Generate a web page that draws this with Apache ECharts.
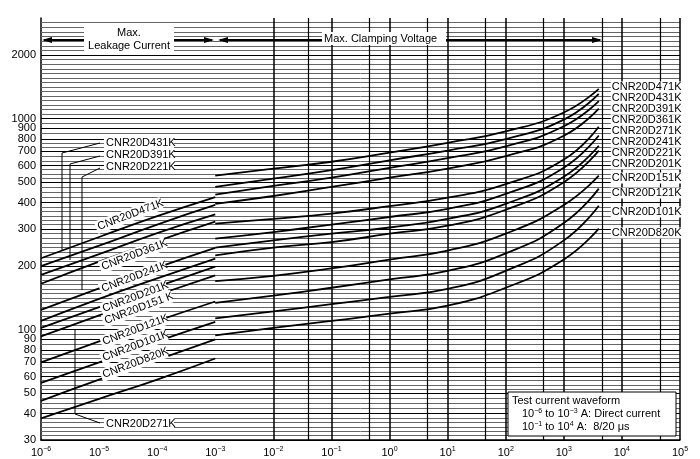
<!DOCTYPE html>
<html><head><meta charset="utf-8">
<script src="https://cdn.jsdelivr.net/npm/echarts@6/dist/echarts.min.js"></script>
<style>html,body{margin:0;padding:0;background:#fff}#c{width:700px;height:459px}</style>
</head><body><div id="c"></div>
<script>
const names = ['CNR20D471K','CNR20D431K','CNR20D391K','CNR20D361K','CNR20D271K','CNR20D241K','CNR20D221K','CNR20D201K','CNR20D151K','CNR20D121K','CNR20D101K','CNR20D820K'];
const leakCurrents = [1e-6, 1e-5, 1e-4, 1e-3];
const clampCurrents = [1e-3, 1e-2, 1e-1, 1, 10, 100, 1000, 4000];
const leakValues = [
 [218,275,345,425],[200,250,315,390],[182,228,287,352],[165,210,263,325],
 [124,157,197,244],[110,140,175,217],[102,128,160,199],[93,117,146,181],
 [70,88,110,136],[56,70,88,109],[46,58,72,90],[38,47,58,73]];
const clampValues = [
 [537,580,625,690,768,870,1070,1385],[475,520,570,635,706,800,990,1310],
 [437,480,525,585,650,740,920,1210],[395,430,475,525,580,665,830,1115],
 [318,335,355,385,422,490,640,916],[270,290,315,342,374,440,585,832],
 [245,265,285,305,335,395,530,744],[225,245,260,285,311,370,500,706],
 [170,180,195,215,237,285,390,537],[134,145,158,173,190,230,320,466],
 [113,122,132,143,156,190,265,387],[94,102,110,119,130,158,215,301]];
const endLabelY = [87,98,109,120,131,142,153,164,178,193,212,233];
const yTickLabels = [30,40,50,60,70,80,90,100,200,300,400,500,600,700,800,900,1000,2000];
const xDecades = [1e-6,1e-5,1e-4,1e-3,1e-2,1e-1,1,10,100,1000,1e4,1e5];
const xExtraLines = [4.5e-6,4.5e-5,4.5e-4,4.5e-3,4.5e-2,4.5e-1,4.5,45,450,4500,45000];
const supMap = {'-6':'−6','-5':'−5','-4':'−4','-3':'−3','-2':'−2','-1':'−1','0':'0','1':'1','2':'2','3':'3','4':'4','5':'5'};

const yMinor = [];
const bounds = yTickLabels.concat([3000]);
for (let i = 0; i < bounds.length - 1; i++) {
  const a = Math.log10(bounds[i]), b = Math.log10(bounds[i+1]);
  const n = Math.max(1, Math.round((b - a) / 0.022));
  for (let k = 1; k < n; k++) yMinor.push(Math.pow(10, a + (b - a) * k / n));
}

const series = [];
names.forEach((nm, i) => {
  series.push({type:'line', name:nm, data: leakCurrents.map((c,j)=>[c, leakValues[i][j]]),
    smooth:true, showSymbol:false, lineStyle:{color:'#000', width:1.8}, z:5, silent:true});
  series.push({type:'line', name:nm, data: clampCurrents.map((c,j)=>[c, clampValues[i][j]]),
    smooth:true, showSymbol:false, lineStyle:{color:'#000', width:1.8}, z:5, silent:true,
    endLabel:{show:true, formatter:'{a}', color:'#000', fontSize:11, fontFamily:'Liberation Sans', distance:12, backgroundColor:'#fff', padding:[0,1]}});
});
series.push({type:'line', data:[], silent:true, markLine:{silent:true, symbol:'none', animation:false,
  data: yMinor.map(v=>({yAxis:v, lineStyle:{color:'#666', width:1, type:'solid'}, label:{show:false}}))
   .concat(yTickLabels.map(v=>({yAxis:v, lineStyle:{color:'#000', width:1.2, type:'solid'},
     label:{show:true, position:'start', formatter:String(v), color:'#000', fontSize:11, fontFamily:'Liberation Sans', distance:5}})))
   .concat(xDecades.map(v=>({xAxis:v, lineStyle:{color:'#000', width:1.5, type:'solid'}, label:{show:false}})))
   .concat(xExtraLines.map(v=>({xAxis:v, lineStyle:{color:'#000', width:1.2, type:'solid'}, label:{show:false}})))
}});

const F = 'Liberation Sans';
function box(x, y, text, rot, w) {
  return {type:'group', x:x, y:y, rotation:rot||0, z:100, children:[
    {type:'rect', z:100, shape:{x:-2, y:-1, width:w||70, height:13}, style:{fill:'#fff'}},
    {type:'text', z:101, x:0, y:0, style:{text:text, fontSize:11, fontFamily:F, fill:'#000'}}]};
}
const graphic = [
  {type:'line', shape:{x1:44,y1:40,x2:212,y2:40}, style:{stroke:'#000', lineWidth:2}},
  {type:'line', shape:{x1:220,y1:40,x2:600,y2:40}, style:{stroke:'#000', lineWidth:2}},
  {type:'polygon', shape:{points:[[42,40],[52,37],[52,43]]}, style:{fill:'#000'}},
  {type:'polygon', shape:{points:[[214,40],[204,37],[204,43]]}, style:{fill:'#000'}},
  {type:'polygon', shape:{points:[[218,40],[228,37],[228,43]]}, style:{fill:'#000'}},
  {type:'polygon', shape:{points:[[602,40],[592,37],[592,43]]}, style:{fill:'#000'}},
  {type:'rect', shape:{x:84,y:24,width:90,height:28}, style:{fill:'#fff'}},
  {type:'text', x:129, y:26, style:{text:'Max.\nLeakage Current', align:'center', lineHeight:13, fontSize:11, fontFamily:F, fill:'#000'}},
  box(324, 33, 'Max. Clamping Voltage', 0, 124),
  {type:'polyline', shape:{points:[[62,250],[62,153],[100,143]]}, style:{stroke:'#000', lineWidth:1, fill:null}},
  {type:'polyline', shape:{points:[[70,260],[70,164],[100,156]]}, style:{stroke:'#000', lineWidth:1, fill:null}},
  {type:'polyline', shape:{points:[[82,290],[82,177],[100,168]]}, style:{stroke:'#000', lineWidth:1, fill:null}},
  {type:'polyline', shape:{points:[[75,330],[75,414],[100,423]]}, style:{stroke:'#000', lineWidth:1, fill:null}},
  box(106, 137, 'CNR20D431K'), box(106, 149, 'CNR20D391K'), box(106, 161, 'CNR20D221K'),
  box(106, 418, 'CNR20D271K'),
  box(96, 222, 'CNR20D471K', 0.36), box(100, 262, 'CNR20D361K', 0.36), box(100, 284, 'CNR20D241K', 0.36),
  box(101, 304, 'CNR20D201K', 0.36), box(103, 316, 'CNR20D151 K', 0.36, 74), box(101, 337, 'CNR20D121K', 0.36),
  box(101, 353, 'CNR20D101K', 0.36), box(101, 370, 'CNR20D820K', 0.36),
  {type:'rect', shape:{x:508,y:392,width:168,height:44}, style:{fill:'#fff', stroke:'#000', lineWidth:1}},
  {type:'text', x:512, y:395, style:{text:'Test current waveform', fontSize:11, fontFamily:F, fill:'#000'}},
  {type:'text', x:522, y:408, style:{fontSize:11, fontFamily:F, fill:'#000', rich:{s:{fontSize:7, padding:[0,0,5,0], fontFamily:F}}, text:'10{s|−6} to 10{s|−3} A: Direct current'}},
  {type:'text', x:522, y:421, style:{fontSize:11, fontFamily:F, fill:'#000', rich:{s:{fontSize:7, padding:[0,0,5,0], fontFamily:F}}, text:'10{s|−1} to 10{s|4} A:  8/20 μs'}}
];
graphic.forEach(g => { if (g.z === undefined) g.z = 100; });

const chart = echarts.init(document.getElementById('c'));
const opt = {
  animation:false,
  backgroundColor:'#fff',
  grid:{left:41, right:20, top:18, bottom:19},
  xAxis:{type:'log', min:1e-6, max:1e5, logBase:10, interval:1,
    axisLine:{lineStyle:{color:'#000', width:1.5}}, axisTick:{show:false},
    splitLine:{show:false},
    axisLabel:{color:'#000', fontSize:11, fontFamily:F, margin:6, showMinLabel:true, showMaxLabel:true, hideOverlap:false,
      formatter:v=>{const e=Math.round(Math.log10(v)); return '10{s|'+supMap[String(e)]+'}';},
      rich:{s:{fontSize:7, padding:[0,0,6,0], fontFamily:F}}}},
  yAxis:{type:'log', min:30, max:3000, logBase:10,
    axisLine:{show:true, lineStyle:{color:'#000', width:1.5}}, axisTick:{show:false},
    axisLabel:{show:false}, splitLine:{show:false}},
  series: series,
  graphic: {elements: graphic}
};
chart.setOption(opt);
names.forEach((nm, i) => {
  const last = clampCurrents.length - 1;
  const p = chart.convertToPixel({gridIndex:0}, [clampCurrents[last], clampValues[i][last]]);
  opt.series[2*i+1].endLabel.offset = [0, endLabelY[i] - p[1]];
});
chart.setOption({series: opt.series});
</script></body></html>
